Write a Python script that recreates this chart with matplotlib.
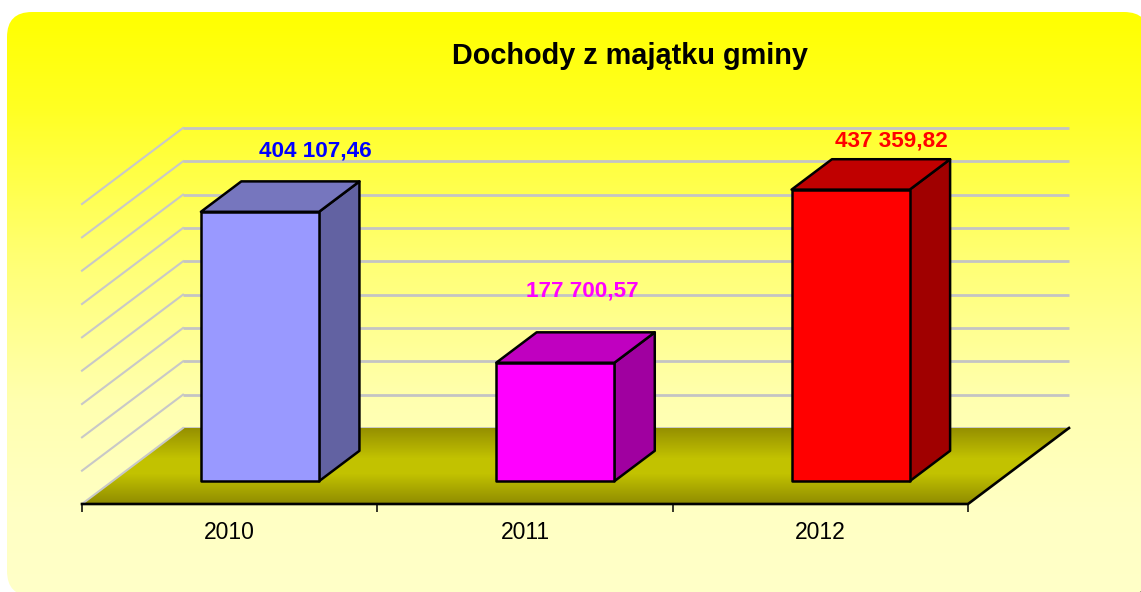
import matplotlib
matplotlib.use('Agg')
import matplotlib.pyplot as plt
from matplotlib.colors import LinearSegmentedColormap
from matplotlib.patches import FancyBboxPatch, Polygon
import numpy as np

# data
years = ['2010', '2011', '2012']
values = [404107.46, 177700.57, 437359.82]
value_labels = ['404 107,46', '177 700,57', '437 359,82']
y_ticks = [0, 50000, 100000, 150000, 200000, 250000, 300000, 350000, 400000, 450000]
title = 'Dochody z majątku gminy'

# colours of the bars: front, top, side
front_cols = ['#9999FF', '#FF00FF', '#FF0000']
top_cols = ['#7676BE', '#C000C0', '#C00000']
side_cols = ['#6262A2', '#A000A0', '#A00000']
text_cols = ['#0000FF', '#FF00FF', '#FF0000']

W, H = 1141, 592
FONT = 'Liberation Sans'

fig = plt.figure(figsize=(W / 100, H / 100), dpi=100, facecolor='white')

# background panel with rounded corners, it runs a bit past the right and bottom edge
bg = fig.add_axes([0, 0, 1, 1])
bg.set_xlim(0, W)
bg.set_ylim(H, 0)
bg.axis('off')
# only the lower right corner of the shadow peeks out from under the panel
shadow = FancyBboxPatch((1040, 300), 84, 275, boxstyle='round,pad=25,rounding_size=25',
                        transform=bg.transData, facecolor='#303030', edgecolor='none', zorder=0)
bg.add_patch(shadow)
panel_cmap = LinearSegmentedColormap.from_list(
    'panel', [(0, '#FFFF00'), (0.16, '#FFFF22'), (0.41, '#FFFF70'), (0.67, '#FFFFB0'), (0.86, '#FFFFC4'), (1, '#FFFFC8')])
grad = np.linspace(0, 1, 300).reshape(-1, 1)
panel_im = bg.imshow(grad, cmap=panel_cmap, extent=[7, 1149, 596, 12], aspect='auto', zorder=1)
panel_box = FancyBboxPatch((32, 37), 1092, 534, boxstyle='round,pad=25,rounding_size=25',
                           transform=bg.transData, facecolor='none', edgecolor='none')
bg.add_patch(panel_box)
panel_im.set_clip_path(panel_box)
bg.set_xlim(0, W)
bg.set_ylim(H, 0)

# the front plane of the chart
ax = fig.add_axes([82 / W, 1 - 504 / H, (968 - 82) / W, 300 / H])
ax.set_xlim(0, 3)
ax.set_ylim(0, 450000)
ax.axis('off')
ax.patch.set_alpha(0)

# oblique projection, depth 0 is the front and 1 the back
depth_x = 101 / (886 / 3)
depth_y = 76 / 300 * 450000


def proj(x, y, d):
    return (x + d * depth_x, y + d * depth_y)


# walls
for v in y_ticks:
    p0 = proj(0, v, 0)
    p1 = proj(0, v, 1)
    p2 = proj(3, v, 1)
    if v > 0:
        ax.plot([p0[0], p1[0]], [p0[1], p1[1]], color='#C8C8C8', lw=1.5, clip_on=False, zorder=1)
    ax.plot([p1[0], p2[0]], [p1[1], p2[1]], color='#C4C4C4', lw=2.0, clip_on=False, zorder=1,
            solid_capstyle='butt')

# floor, a sheared mesh so the gradient runs front to back
floor_pts = [proj(0, 0, 0), proj(3, 0, 0), proj(3, 0, 1), proj(0, 0, 1)]
floor_cmap = LinearSegmentedColormap.from_list(
    'floor', [(0, '#8F8C00'), (0.4, '#C2C200'), (0.6, '#C2C200'), (1, '#959000')])
depths = np.linspace(0, 1, 77)
floor_x = np.array([[proj(0, 0, d)[0], proj(3, 0, d)[0]] for d in depths])
floor_y = np.array([[proj(0, 0, d)[1], proj(3, 0, d)[1]] for d in depths])
floor_c = ((depths[:-1] + depths[1:]) / 2).reshape(-1, 1)
ax.pcolormesh(floor_x, floor_y, floor_c, cmap=floor_cmap, shading='flat', zorder=2,
              clip_on=False, antialiased=False, linewidth=0)
ax.set_xlim(0, 3)
ax.set_ylim(0, 450000)

# edges of the floor and ticks
ax.plot([floor_pts[3][0], floor_pts[0][0]], [floor_pts[3][1], floor_pts[0][1]],
        color='#C8C8C8', lw=1.5, clip_on=False, zorder=3)
ax.plot([floor_pts[0][0], floor_pts[1][0], floor_pts[2][0]],
        [floor_pts[0][1], floor_pts[1][1], floor_pts[2][1]],
        color='black', lw=1.9, clip_on=False, zorder=3, solid_joinstyle='miter')
tick_len = 8 / 300 * 450000
for i in range(len(years) + 1):
    ax.plot([i, i], [0, -tick_len], color='black', lw=1.1, clip_on=False, zorder=3,
            solid_capstyle='butt')

# bars
bar_w = 0.4
d0, d1 = 0.3, 0.7
for i, v in enumerate(values):
    xa = i + 0.5 - bar_w / 2
    xb = i + 0.5 + bar_w / 2
    side = [proj(xb, 0, d0), proj(xb, 0, d1), proj(xb, v, d1), proj(xb, v, d0)]
    top = [proj(xa, v, d0), proj(xb, v, d0), proj(xb, v, d1), proj(xa, v, d1)]
    front = [proj(xa, 0, d0), proj(xb, 0, d0), proj(xb, v, d0), proj(xa, v, d0)]
    for pts, col in ((side, side_cols[i]), (top, top_cols[i]), (front, front_cols[i])):
        ax.add_patch(Polygon(pts, closed=True, facecolor=col, edgecolor='black', lw=1.8,
                             joinstyle='round', clip_on=False, zorder=4))

# value labels, hand placed above the bars as in the original
label_dx = [15, -13, 0]
label_dy = [30, 41, 18]
for i, v in enumerate(values):
    pos = proj(i + 0.5, v, d1)
    ax.annotate(value_labels[i], xy=pos, xytext=(label_dx[i] * 0.72, label_dy[i] * 0.72),
                textcoords='offset points', ha='center', va='center', color=text_cols[i],
                fontsize=16.2, fontweight='bold', family=FONT, annotation_clip=False, zorder=6)

# year labels
for i, name in enumerate(years):
    ax.annotate(name, xy=(i + 0.5, 0), xytext=(0, -28.5 * 0.72), textcoords='offset points',
                ha='center', va='center', color='black', fontsize=16.5, family=FONT,
                annotation_clip=False, zorder=6)

fig.text(630 / W, 1 - 55.5 / H, title, ha='center', va='center', color='black',
         fontsize=20.8, fontweight='bold', family=FONT)

fig.savefig('out.png', dpi=100)
